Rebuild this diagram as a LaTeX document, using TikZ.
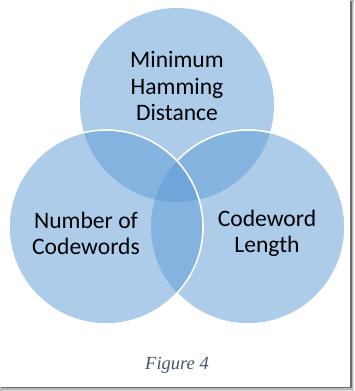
\documentclass[tikz,border=0pt]{standalone}
\usepackage{fontspec}
\setmainfont{Carlito}
\newfontfamily\capfont{Liberation Serif}
\definecolor{vblue}{HTML}{5B9BD5}
\definecolor{capgray}{HTML}{44546A}
\begin{document}
\begin{tikzpicture}[x=1pt,y=-1pt,
  vfill/.style={fill=vblue,fill opacity=0.5},
  vline/.style={draw=white,line width=1.6pt},
  vlabel/.style={align=center,font=\fontsize{23.6}{26.2}\selectfont,text=black,inner sep=0pt}]
\useasboundingbox (0,0) rectangle (354,391);
\fill[white] (0,0) rectangle (354,391);
% frame shadow
\fill[gray!55] (349.5,0) rectangle (354,391);
\fill[gray!55] (0,386.5) rectangle (354,391);
\fill[gray!85!black] (350.3,1) rectangle (351.6,388);
\fill[gray!85!black] (1,386.8) rectangle (351.6,388.1);
\fill[gray!30] (352.6,3) rectangle (354,391);
\fill[gray!30] (3,389.6) rectangle (354,391);
% circles
\coordinate (ct) at (177,105);
\coordinate (cl) at (106,227);
\coordinate (cr) at (248,227);
\fill[vfill] (ct) circle (97);
\fill[vfill] (cr) circle (97);
\fill[vfill] (cl) circle (97);
\begin{scope}[even odd rule]
  \clip (-10,-10) rectangle (400,400) (cl) circle (97);
  \draw[vline] (cr) circle (97);
\end{scope}
\draw[vline] (cl) circle (97);
% labels
\node[vlabel] (mhd) at (177,86) {Minimum\\Hamming\\Distance};
\node[vlabel] (noc) at (86,233.5) {Number of\\Codewords};
\node[vlabel] (cwl) at (267,233.5) {Codeword\\Length};
\node[font=\capfont\itshape\fontsize{18.5}{21}\selectfont,text=capgray,inner sep=0pt] (cap) at (177,365) {Figure 4};
\end{tikzpicture}
\end{document}
